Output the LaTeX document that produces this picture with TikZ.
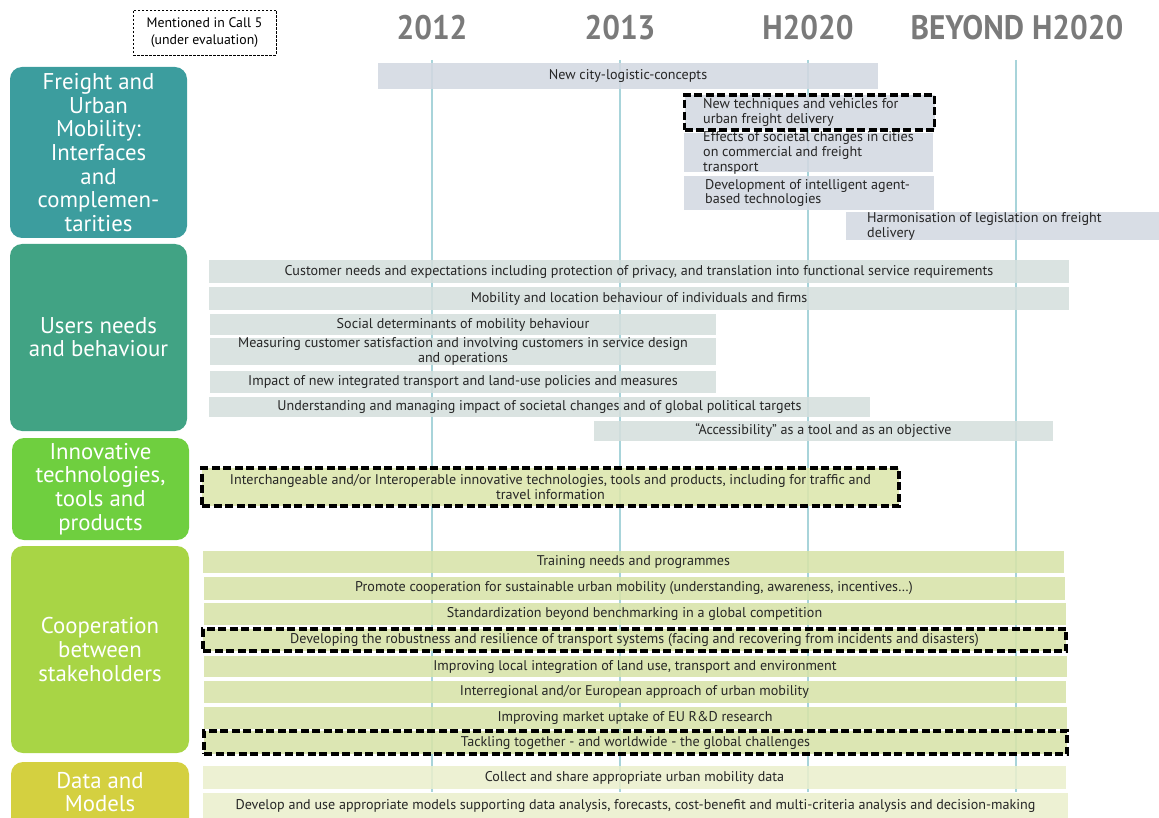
\documentclass[tikz,border=0pt]{standalone}
\usepackage{fontspec}
\setmainfont{PT Sans}
\definecolor{catA}{HTML}{3C9D9E}
\definecolor{catB}{HTML}{41A384}
\definecolor{catC}{HTML}{6FCF3F}
\definecolor{catD}{HTML}{A8D545}
\definecolor{catE}{HTML}{D4D040}
\definecolor{barA}{HTML}{D3D8E1}
\definecolor{barB}{HTML}{D5DFDD}
\definecolor{barC}{HTML}{DCE6AC}
\definecolor{barD}{HTML}{D7E3A8}
\definecolor{barE}{HTML}{EAEFCD}
\definecolor{gridline}{HTML}{A8D4DA}
\definecolor{yeargray}{HTML}{7A7A7A}
\newcommand{\yeartext}[1]{\scalebox{0.92}[1]{#1}}
\begin{document}
\begin{tikzpicture}[x=1pt,y=-1pt,
  cat/.style={rounded corners=12pt, inner sep=0pt, text=white, align=center,
    font=\fontsize{22.8}{23.6}\selectfont},
  cattext/.style={text=white, align=center, inner sep=0pt, font=\fontsize{22.8}{23.6}\selectfont},
  bar/.style={inner sep=0pt, fill opacity=0.88, text opacity=1, text=black!85,
    align=center, font=\fontsize{14.1}{14.6}\selectfont},
  lbar/.style={inner sep=0pt, fill opacity=0.88, anchor=west},
  ltext/.style={inner sep=0pt, anchor=west, align=left, text=black!85,
    font=\fontsize{14.1}{14.6}\selectfont},
  callbox/.style={draw=black, line width=3.3pt, dash pattern=on 8pt off 3.5pt},
  year/.style={text=yeargray, font=\fontsize{34}{34}\selectfont\bfseries},
  vline/.style={draw=gridline, line width=1.8pt}]
\useasboundingbox (0,0) rectangle (1159,818);
\clip (0,0) rectangle (1159,818);

% legend
\node[draw=black, line width=0.8pt, dash pattern=on 2.5pt off 1.5pt, minimum width=143pt,
  minimum height=45pt, inner sep=0pt, align=center, font=\fontsize{13.8}{16.5}\selectfont]
  (legend) at (204.5,32.5) {Mentioned in Call 5\\(under evaluation)};

% period headings and grid lines
\node[year] (y12) at (432,28) {\yeartext{2012}};
\node[year] (y13) at (620,28) {\yeartext{2013}};
\node[year] (yh) at (808,28) {\yeartext{H2020}};
\node[year] (yb) at (1017,28) {\yeartext{BEYOND H2020}};
\foreach \n/\x in {a/432,b/620,c/808,d/1016}{
  \coordinate (top\n) at (\x,60);
  \coordinate (bot\n) at (\x,792);
  \draw[vline] (top\n) -- (bot\n);
}

% category boxes
\node[cat, fill=catA, minimum width=177pt, minimum height=171pt] (freight) at (98.5,152.5)
  {Freight and\\Urban\\Mobility:\\Interfaces\\and\\complemen-\\tarities};
\node[cat, fill=catB, minimum width=177pt, minimum height=187pt] (users) at (98.5,337.5) {};
\node[cattext] (userst) at (98.5,337) {Users needs\\and behaviour};
\node[cat, fill=catC, minimum width=177pt, minimum height=102pt] (innov) at (100.5,489)
  {Innovative\\technologies,\\tools and\\products};
\node[cat, fill=catD, minimum width=178pt, minimum height=207pt] (coop) at (100,649.5)
  {Cooperation\\between\\stakeholders};
\node[cat, fill=catE, minimum width=178pt, minimum height=80pt] (data) at (100,802) {};
\node[cattext] (datat) at (100,792) {Data and\\Models};

% freight bars
\node[bar, fill=barA, minimum width=500pt, minimum height=26pt] (f1) at (628,76)
  {New city-logistic-concepts};
\node[lbar, fill=barA, minimum width=249pt, minimum height=39pt] (f3) at (684,152.5) {};
\node[ltext] (f3t) at (703,153) {Effects of societal changes in cities\\on commercial and freight\\transport};
\node[lbar, fill=barA, minimum width=250pt, minimum height=34pt] (f4) at (684,193) {};
\node[ltext] (f4t) at (705,193) {Development of intelligent agent-\\based technologies};
\node[lbar, fill=barA, minimum width=320pt, minimum height=28pt] (f5) at (846,226) {};
\node[ltext] (f5t) at (867,226.5) {Harmonisation of legislation on freight\\delivery};
\node[lbar, fill=barA, callbox, minimum width=250pt, minimum height=35pt] (f2) at (683,112.5) {};
\node[ltext] (f2t) at (703,112.5) {New techniques and vehicles for\\urban freight delivery};

% users bars
\node[bar, fill=barB, minimum width=860pt, minimum height=23pt] (u1) at (639,271.5)
  {Customer needs and expectations including protection of privacy, and translation into functional service requirements};
\node[bar, fill=barB, minimum width=860pt, minimum height=23pt] (u2) at (639,298.5)
  {Mobility and location behaviour of individuals and firms};
\node[bar, fill=barB, minimum width=506pt, minimum height=21pt] (u3) at (463,324.5)
  {Social determinants of mobility behaviour};
\node[bar, fill=barB, minimum width=506pt, minimum height=27pt] (u4) at (463,351.5)
  {Measuring customer satisfaction and involving customers in service design\\and operations};
\node[bar, fill=barB, minimum width=506pt, minimum height=22pt] (u5) at (463,382)
  {Impact of new integrated transport and land-use policies and measures};
\node[bar, fill=barB, minimum width=661pt, minimum height=20pt] (u6) at (539.5,407)
  {Understanding and managing impact of societal changes and of global political targets};
\node[bar, fill=barB, minimum width=459pt, minimum height=20pt] (u7) at (823.5,431)
  {“Accessibility” as a tool and as an objective};

% innovation bar
\node[bar, fill=barC, callbox, minimum width=697pt, minimum height=38pt] (i1) at (550.5,487)
  {Interchangeable and/or Interoperable innovative technologies, tools and products, including for traffic and\\travel information};

% cooperation bars
\node[bar, fill=barD, minimum width=861pt, minimum height=22pt] (c1) at (633.5,562)
  {Training needs and programmes};
\node[bar, fill=barD, minimum width=861pt, minimum height=23pt] (c2) at (634,588.5)
  {Promote cooperation for sustainable urban mobility (understanding, awareness, incentives…)};
\node[bar, fill=barD, minimum width=862pt, minimum height=22pt] (c3) at (634.5,614)
  {Standardization beyond benchmarking in a global competition};
\node[bar, fill=barD, callbox, minimum width=863pt, minimum height=22pt] (c4) at (634.5,640)
  {Developing the robustness and resilience of transport systems (facing and recovering from incidents and disasters)};
\node[bar, fill=barD, minimum width=863pt, minimum height=21pt] (c5) at (635,666.5)
  {Improving local integration of land use, transport and environment};
\node[bar, fill=barD, minimum width=862pt, minimum height=22pt] (c6) at (634.5,692)
  {Interregional and/or European approach of urban mobility};
\node[bar, fill=barD, minimum width=863pt, minimum height=22pt] (c7) at (635,718)
  {Improving market uptake of EU R\&D research};
\node[bar, fill=barD, callbox, minimum width=863pt, minimum height=23pt] (c8) at (635.5,742.5)
  {Tackling together - and worldwide - the global challenges};

% data bars
\node[bar, fill=barE, minimum width=863pt, minimum height=23pt] (d1) at (634.5,777.5)
  {Collect and share appropriate urban mobility data};
\node[bar, fill=barE, minimum width=865pt, minimum height=25pt] (d2) at (635.5,805.5)
  {Develop and use appropriate models supporting data analysis, forecasts, cost-benefit and multi-criteria analysis and decision-making};
\end{tikzpicture}
\end{document}
